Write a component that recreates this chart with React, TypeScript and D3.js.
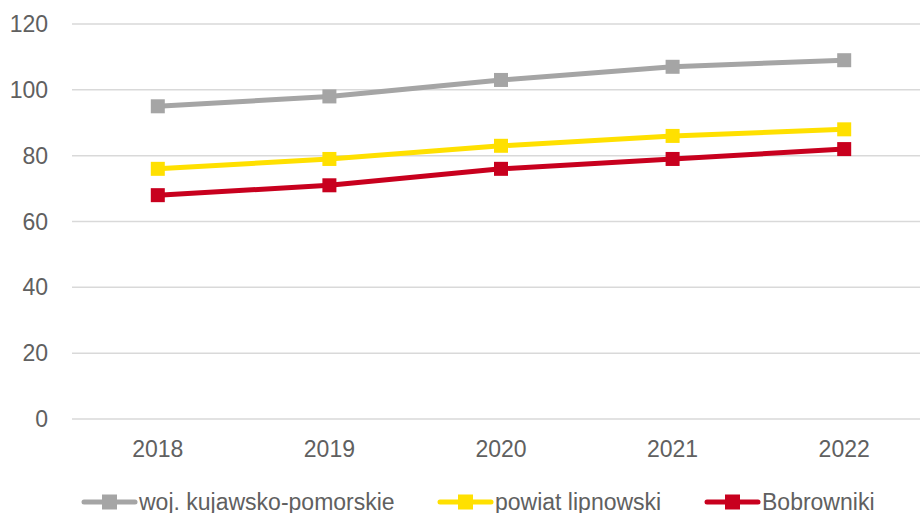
import React, { useEffect, useRef } from 'react';
import * as d3 from 'd3';

const years = ['2018', '2019', '2020', '2021', '2022'];
const wojValues = [95, 98, 103, 107, 109];
const powiatValues = [76, 79, 83, 86, 88];
const bobrownikiValues = [68, 71, 76, 79, 82];
const yTicks = [0, 20, 40, 60, 80, 100, 120];

const seriesNames = ['woj. kujawsko-pomorskie', 'powiat lipnowski', 'Bobrowniki'];
const seriesColors = ['#A5A5A5', '#FFE000', '#C8001E'];

const App: React.FC = () => {
  const svgRef = useRef<SVGSVGElement>(null);

  useEffect(() => {
    if (!svgRef.current) return;
    const width = 920;
    const height = 513;
    const margin = { top: 24, right: -10, bottom: 94, left: 72 };

    const svg = d3.select(svgRef.current);
    svg.selectAll('*').remove();

    const x = d3.scaleBand()
      .domain(years)
      .range([margin.left, width - margin.right]);

    const y = d3.scaleLinear()
      .domain([0, 120])
      .range([height - margin.bottom, margin.top]);

    const font = '"Liberation Sans", Arial, sans-serif';
    const textColor = '#606060';

    // Grid lines
    svg.append('g')
      .selectAll('line')
      .data(yTicks)
      .join('line')
      .attr('x1', margin.left)
      .attr('x2', width)
      .attr('y1', d => y(d))
      .attr('y2', d => y(d))
      .attr('stroke', '#D9D9D9')
      .attr('stroke-width', 1.5);

    // Y labels
    svg.append('g')
      .selectAll('text')
      .data(yTicks)
      .join('text')
      .attr('x', 48)
      .attr('y', d => y(d))
      .attr('dy', '0.35em')
      .attr('text-anchor', 'end')
      .attr('font-family', font)
      .attr('font-size', 23)
      .attr('fill', textColor)
      .text(d => d);

    // X labels
    svg.append('g')
      .selectAll('text')
      .data(years)
      .join('text')
      .attr('x', d => (x(d) as number) + x.bandwidth() / 2)
      .attr('y', 449)
      .attr('dy', '0.35em')
      .attr('text-anchor', 'middle')
      .attr('font-family', font)
      .attr('font-size', 23)
      .attr('fill', textColor)
      .text(d => d);

    const allSeries = [wojValues, powiatValues, bobrownikiValues];
    const cx = (i: number) => (x(years[i]) as number) + x.bandwidth() / 2;
    const line = d3.line<number>()
      .x((_, i) => cx(i))
      .y(d => y(d));

    const markerSize = 14;
    allSeries.forEach((vals, si) => {
      const g = svg.append('g');
      g.append('path')
        .attr('d', line(vals))
        .attr('fill', 'none')
        .attr('stroke', seriesColors[si])
        .attr('stroke-width', 5)
        .attr('stroke-linejoin', 'round');
      g.selectAll('rect')
        .data(vals)
        .join('rect')
        .attr('x', (_, i) => cx(i) - markerSize / 2)
        .attr('y', d => y(d) - markerSize / 2)
        .attr('width', markerSize)
        .attr('height', markerSize)
        .attr('fill', seriesColors[si]);
    });

    // Legend
    const legendX = [82, 438, 705];
    const legendY = 502;
    seriesNames.forEach((name, si) => {
      const g = svg.append('g').attr('transform', `translate(${legendX[si]},${legendY})`);
      g.append('line')
        .attr('x1', 2)
        .attr('x2', 53)
        .attr('y1', 0)
        .attr('y2', 0)
        .attr('stroke', seriesColors[si])
        .attr('stroke-width', 5)
        .attr('stroke-linecap', 'round');
      g.append('rect')
        .attr('x', 20)
        .attr('y', -7.5)
        .attr('width', 15)
        .attr('height', 15)
        .attr('fill', seriesColors[si]);
      g.append('text')
        .attr('x', 57)
        .attr('y', 0)
        .attr('dy', '0.35em')
        .attr('font-family', font)
        .attr('font-size', 23)
        .attr('fill', textColor)
        .text(name);
    });
  }, []);

  return (
    <div style={{ position: 'absolute', left: 0, top: 0, width: 920, height: 513, background: '#fff' }}>
      <svg ref={svgRef} width={920} height={513} style={{ display: 'block' }} />
    </div>
  );
};

export default App;
